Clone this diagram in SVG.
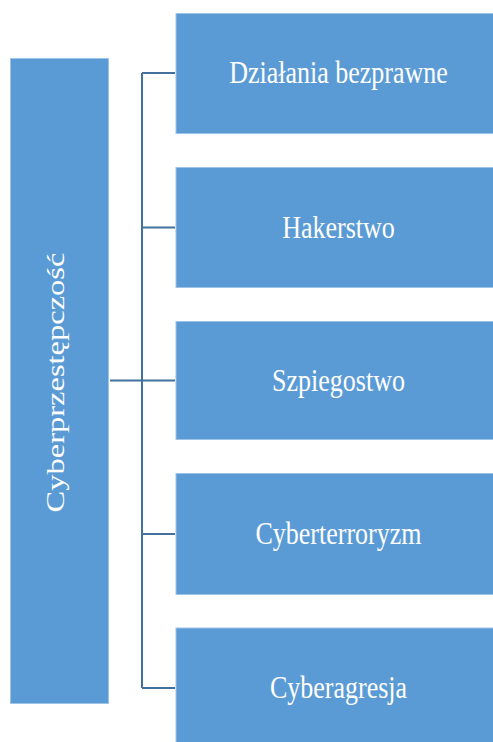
<svg xmlns="http://www.w3.org/2000/svg" width="493" height="742" viewBox="0 0 493 742">
<style>
.box{fill:#5B9BD5;stroke:#9DC3E6;stroke-width:1}
.lbl{font-family:"Liberation Serif","Times New Roman",serif;font-size:26px;fill:#ffffff;text-anchor:middle}
.conn{fill:none;stroke:#41719C;stroke-width:2}
</style>
<g id="connectors">
<path class="conn" d="M142 73 V688"/>
<path class="conn" d="M142 73 H175"/>
<path class="conn" d="M142 227.5 H175"/>
<path class="conn" d="M110 380.5 H175"/>
<path class="conn" d="M142 534 H175"/>
<path class="conn" d="M142 688 H175"/>
</g>
<g id="root">
<rect class="box" x="10.5" y="58.5" width="98" height="645"/>
<text class="lbl" transform="translate(63.5,382.5) rotate(-90) scale(1.25,1)">Cyberprzestępczość</text>
</g>
<g id="n1">
<rect class="box" x="176" y="13.5" width="320" height="120"/>
<text class="lbl" transform="translate(338.5,83) scale(1,1.25)">Działania bezprawne</text>
</g>
<g id="n2">
<rect class="box" x="176" y="167.5" width="320" height="120"/>
<text class="lbl" transform="translate(338.5,237.5) scale(1,1.25)">Hakerstwo</text>
</g>
<g id="n3">
<rect class="box" x="176" y="321.5" width="320" height="118"/>
<text class="lbl" transform="translate(338.5,390.5) scale(1,1.25)">Szpiegostwo</text>
</g>
<g id="n4">
<rect class="box" x="176" y="473.5" width="320" height="121"/>
<text class="lbl" transform="translate(338.5,544) scale(1,1.25)">Cyberterroryzm</text>
</g>
<g id="n5">
<rect class="box" x="176" y="628" width="320" height="130"/>
<text class="lbl" transform="translate(338.5,698) scale(1,1.25)">Cyberagresja</text>
</g>
</svg>
